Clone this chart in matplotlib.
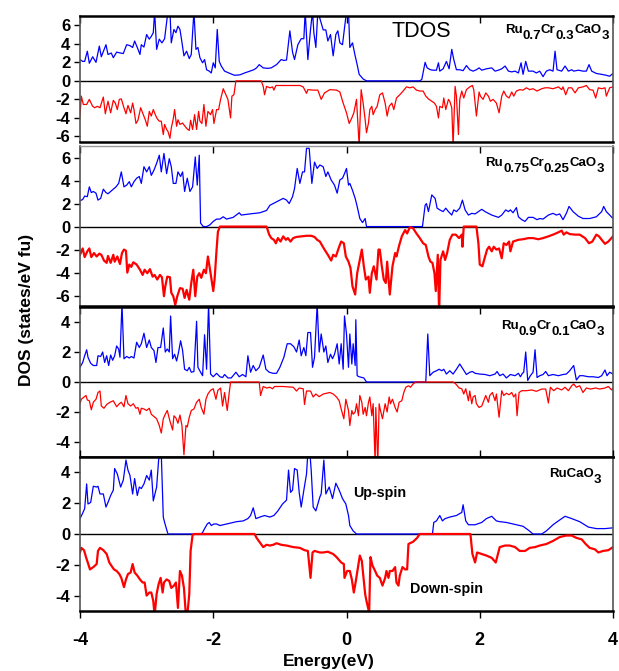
# Spin-resolved total DOS for Ru(1-x)Cr(x)CaO3, four stacked panels.

import matplotlib
matplotlib.use('Agg')
import matplotlib.pyplot as plt

plt.rcParams['font.family'] = ['Liberation Sans', 'DejaVu Sans']
plt.rcParams['font.weight'] = 'bold'
plt.rcParams['axes.unicode_minus'] = False

# (energy eV, DOS); spikes that leave the frame are estimates
p1_up = [(-4.00,2.3),(-3.96,2.1),(-3.93,2.1),(-3.89,3.2),(-3.86,1.9),(-3.81,2.6),(-3.76,2.0),(-3.71,3.75),(-3.68,2.6),
         (-3.61,3.9),(-3.58,2.85),(-3.53,3.0),(-3.50,2.5),(-3.45,3.1),(-3.39,3.0),(-3.35,2.95),(-3.30,3.9),(-3.25,3.8),
         (-3.21,3.6),(-3.18,4.3),(-3.14,3.6),(-3.10,2.85),(-3.08,3.9),(-3.04,3.65),(-3.00,5.0),(-2.96,4.5),(-2.93,4.8),
         (-2.90,5.2),(-2.88,7.5),(-2.85,3.4),(-2.81,4.5),(-2.77,4.1),(-2.73,4.55),(-2.70,6.3),(-2.68,7.5),(-2.65,7.5),
         (-2.63,4.1),(-2.59,5.55),(-2.56,5.2),(-2.53,5.9),(-2.50,5.55),(-2.48,4.65),(-2.44,2.7),(-2.40,3.2),(-2.36,2.4),
         (-2.33,2.85),(-2.29,7.5),(-2.26,3.4),(-2.23,3.6),(-2.20,2.5),(-2.16,1.95),(-2.13,2.3),(-2.10,1.2),(-2.06,1.05),
         (-2.03,0.85),(-2.00,1.95),(-1.97,1.4),(-1.94,5.55),(-1.91,2.1),(-1.88,1.6),(-1.83,1.05),(-1.75,0.8),(-1.68,0.6),
         (-1.60,0.65),(-1.53,0.85),(-1.45,1.05),(-1.39,1.2),(-1.35,1.4),(-1.31,1.75),(-1.25,1.4),(-1.18,1.35),(-1.13,1.4),
         (-1.05,1.75),(-0.98,2.3),(-0.94,2.2),(-0.90,2.25),(-0.85,5.4),(-0.81,3.1),(-0.78,2.3),(-0.73,3.9),(-0.68,4.55),
         (-0.64,4.55),(-0.62,7.5),(-0.58,2.3),(-0.54,5.55),(-0.51,7.5),(-0.49,5.2),(-0.46,3.6),(-0.43,7.5),
         (-0.35,5.5),(-0.31,5.5),(-0.28,4.3),(-0.24,5.0),(-0.20,2.7),(-0.16,5.0),(-0.13,5.4),(-0.10,4.1),(-0.06,3.9),
         (0.00,7.5),(0.03,7.5),(0.05,3.6),(0.09,4.1),(0.13,2.7),(0.16,1.75),(0.19,0.7),(0.25,0.2),(0.30,0.0),(1.10,0.0),
         (1.13,0.15),(1.18,2.0),(1.21,1.4),(1.26,1.2),(1.30,1.15),(1.35,1.15),(1.38,1.95),(1.40,1.05),(1.45,1.3),
         (1.50,2.1),(1.54,1.3),(1.58,3.4),(1.61,2.3),(1.65,1.2),(1.70,1.2),(1.75,1.1),(1.80,1.65),(1.85,1.2),(1.90,1.05),
         (1.95,1.2),(1.99,1.4),(2.03,1.15),(2.10,1.3),(2.18,1.4),(2.23,1.05),(2.28,1.15),(2.33,1.3),(2.38,1.6),
         (2.43,1.05),(2.48,0.97),(2.53,1.05),(2.58,0.85),(2.62,1.95),(2.65,0.7),(2.69,2.1),(2.73,1.05),(2.80,1.05),
         (2.85,0.85),(2.90,1.05),(2.95,0.45),(3.00,1.05),(3.05,1.2),(3.10,1.05),(3.13,3.2),(3.16,1.2),(3.23,1.05),
         (3.28,1.6),(3.33,1.05),(3.38,1.2),(3.41,1.05),(3.48,1.15),(3.55,1.05),(3.60,1.05),(3.64,1.75),(3.68,1.05),
         (3.75,0.8),(3.83,0.7),(3.90,0.6),(3.95,0.5),(4.00,0.8)]

p1_dn = [(-4.00,-3.8),(-3.98,-1.65),(-3.95,-2.55),(-3.90,-2.55),(-3.86,-2.0),(-3.81,-2.75),(-3.78,-2.9),(-3.74,-2.75),
         (-3.70,-2.9),(-3.65,-1.75),(-3.62,-3.55),(-3.58,-2.2),(-3.54,-3.45),(-3.50,-2.1),(-3.47,-2.4),(-3.44,-3.1),
         (-3.41,-2.0),(-3.38,-1.95),(-3.34,-2.9),(-3.31,-3.55),(-3.28,-2.65),(-3.24,-3.45),(-3.21,-2.4),(-3.19,-3.1),
         (-3.16,-4.6),(-3.13,-4.25),(-3.09,-2.9),(-3.05,-3.65),(-3.02,-4.2),(-2.99,-4.9),(-2.96,-3.3),(-2.93,-3.8),
         (-2.90,-3.1),(-2.87,-3.65),(-2.84,-4.1),(-2.81,-4.35),(-2.78,-4.35),(-2.75,-5.8),(-2.73,-4.7),(-2.70,-5.25),
         (-2.68,-5.45),(-2.65,-6.2),(-2.63,-5.1),(-2.60,-4.1),(-2.58,-3.1),(-2.55,-4.9),(-2.53,-4.2),(-2.50,-4.7),
         (-2.46,-4.55),(-2.43,-4.85),(-2.39,-5.2),(-2.36,-5.35),(-2.34,-4.25),(-2.31,-5.25),(-2.28,-3.65),(-2.25,-5.25),
         (-2.22,-3.3),(-2.20,-4.35),(-2.17,-4.6),(-2.14,-2.55),(-2.11,-4.9),(-2.08,-3.3),(-2.04,-3.65),(-2.01,-3.1),
         (-1.99,-4.6),(-1.95,-3.1),(-1.92,-3.1),(-1.89,-2.0),(-1.85,-0.85),(-1.81,-1.5),(-1.78,-2.0),(-1.74,-4.0),
         (-1.72,-1.65),(-1.69,-1.5),(-1.66,0.0),(-1.28,0.0),(-1.25,-0.6),(-1.23,-1.5),(-1.20,-0.6),(-1.15,-0.75),
         (-1.11,-0.65),(-1.09,-1.0),(-1.06,-0.5),(-0.95,-0.5),(-0.70,-0.5),(-0.65,-0.65),(-0.60,-1.35),(-0.58,-0.95),
         (-0.50,-1.0),(-0.43,-1.0),(-0.38,-2.0),(-0.33,-1.3),(-0.25,-0.95),(-0.15,-1.0),(-0.10,-1.2),(-0.05,-2.4),
         (0.00,-3.45),(0.04,-4.6),(0.08,-4.0),(0.11,-3.45),(0.15,-2.0),(0.19,-7.0),(0.22,-0.95),(0.25,-2.4),(0.28,-4.2),
         (0.30,-5.6),(0.33,-4.55),(0.35,-3.1),(0.38,-2.75),(0.40,-3.65),(0.43,-3.1),(0.46,-2.75),(0.50,-1.5),(0.54,-1.3),
         (0.58,-2.4),(0.61,-3.8),(0.64,-2.75),(0.68,-2.4),(0.71,-3.1),(0.75,-1.85),(0.80,-1.5),(0.85,-1.1),(0.90,-0.65),
         (0.95,-0.75),(1.00,-0.65),(1.05,-1.0),(1.10,-1.1),(1.15,-1.1),(1.19,-1.65),(1.23,-1.95),(1.28,-2.2),(1.32,-2.4),
         (1.35,-2.75),(1.38,-4.0),(1.40,-2.75),(1.44,-2.9),(1.46,-1.85),(1.49,-3.1),(1.53,-2.0),(1.55,-2.2),(1.58,-2.9),
         (1.60,-7.0),(1.63,-0.6),(1.65,-1.65),(1.68,-5.8),(1.70,-2.0),(1.73,-1.1),(1.76,-1.85),(1.80,-0.95),(1.85,-0.65),
         (1.89,-0.5),(1.91,-0.95),(1.95,-3.8),(1.99,-1.2),(2.01,-1.65),(2.05,-2.0),(2.09,-1.3),(2.13,-1.65),(2.16,-2.2),
         (2.20,-2.0),(2.25,-2.4),(2.29,-3.45),(2.33,-1.65),(2.36,-1.1),(2.40,-1.65),(2.44,-1.85),(2.48,-1.2),(2.51,-1.65),
         (2.55,-1.1),(2.60,-0.95),(2.65,-1.0),(2.70,-0.75),(2.75,-0.95),(2.80,-0.85),(2.86,-1.1),(2.93,-0.85),
         (2.98,-0.75),(3.03,-0.75),(3.10,-0.85),(3.18,-0.65),(3.23,-0.95),(3.25,-0.65),(3.29,-1.5),(3.33,-0.75),
         (3.38,-0.75),(3.43,-1.3),(3.48,-0.75),(3.55,-0.65),(3.60,-0.5),(3.65,-0.95),(3.70,-1.0),(3.74,-1.85),
         (3.78,-0.75),(3.83,-0.85),(3.88,-0.75),(3.90,-1.65),(3.95,-0.75),(4.00,-0.65)]

p2_up = [(-4.00,2.25),(-3.96,2.35),(-3.93,2.65),(-3.89,2.6),(-3.86,3.45),(-3.83,2.95),(-3.80,3.05),(-3.76,2.9),
         (-3.73,2.3),(-3.69,2.45),(-3.65,3.25),(-3.61,2.95),(-3.58,2.85),(-3.54,3.05),(-3.50,3.25),(-3.46,3.45),
         (-3.42,3.75),(-3.38,4.75),(-3.34,3.45),(-3.30,3.6),(-3.26,3.9),(-3.23,3.45),(-3.19,3.9),(-3.15,4.2),(-3.11,4.35),
         (-3.08,3.75),(-3.04,5.2),(-3.00,4.75),(-2.96,5.2),(-2.93,4.45),(-2.89,4.9),(-2.85,5.5),(-2.81,6.2),(-2.78,4.75),
         (-2.74,6.35),(-2.70,4.6),(-2.66,5.9),(-2.63,5.2),(-2.60,3.75),(-2.56,3.75),(-2.53,4.75),(-2.49,4.35),(-2.46,4.75),
         (-2.43,3.05),(-2.39,4.2),(-2.35,3.05),(-2.31,3.45),(-2.27,6.05),(-2.24,3.6),(-2.21,6.2),(-2.19,0.3),(-2.15,0.0),
         (-2.10,0.0),(-2.05,0.15),(-2.00,0.45),(-1.95,0.65),(-1.90,0.65),(-1.85,0.85),(-1.80,0.65),(-1.70,0.8),
         (-1.61,1.2),(-1.58,1.0),(-1.45,1.1),(-1.30,1.2),(-1.20,1.4),(-1.15,1.85),(-1.05,2.15),(-0.95,2.45),(-0.90,2.3),
         (-0.86,2.0),(-0.81,2.6),(-0.78,3.3),(-0.74,5.05),(-0.70,3.75),(-0.66,4.75),(-0.63,4.75),(-0.60,6.8),(-0.56,6.8),
         (-0.52,3.75),(-0.48,5.6),(-0.44,5.05),(-0.40,5.35),(-0.35,5.2),(-0.31,4.35),(-0.28,4.75),(-0.23,4.05),
         (-0.18,3.6),(-0.14,2.9),(-0.10,4.05),(-0.06,4.2),(-0.03,4.6),(0.00,5.05),(0.03,3.6),(0.05,3.75),(0.09,3.15),
         (0.13,2.45),(0.16,1.75),(0.20,0.7),(0.24,0.35),(0.28,0.7),(0.30,0.0),(1.14,0.0),(1.18,1.85),(1.20,2.0),
         (1.23,1.3),(1.28,2.75),(1.33,2.45),(1.36,1.6),(1.40,1.45),(1.45,1.3),(1.49,1.6),(1.53,1.3),(1.58,1.0),
         (1.61,1.45),(1.65,1.3),(1.70,1.6),(1.74,2.3),(1.78,1.45),(1.83,1.0),(1.88,1.15),(1.93,1.1),(1.98,1.3),
         (2.03,1.5),(2.08,1.3),(2.13,1.15),(2.18,1.0),(2.23,0.9),(2.28,0.8),(2.33,1.0),(2.39,1.45),(2.43,1.3),
         (2.46,1.45),(2.50,1.2),(2.55,1.65),(2.58,0.85),(2.63,0.6),(2.68,0.45),(2.73,0.8),(2.80,0.8),(2.86,0.6),
         (2.90,0.7),(2.95,0.65),(3.03,1.0),(3.10,1.15),(3.15,1.0),(3.20,1.1),(3.25,0.6),(3.30,1.15),(3.34,1.75),
         (3.40,1.3),(3.48,0.9),(3.55,0.7),(3.65,0.7),(3.75,0.85),(3.83,1.3),(3.86,1.75),(3.90,1.3),(3.95,1.0),(4.00,0.7)]

p2_dn = [(-4.00,-2.45),(-3.96,-1.9),(-3.93,-2.65),(-3.89,-2.15),(-3.86,-1.9),(-3.83,-2.65),(-3.79,-2.3),(-3.75,-2.6),
         (-3.71,-2.35),(-3.68,-2.45),(-3.64,-2.95),(-3.60,-3.15),(-3.58,-2.55),(-3.54,-3.15),(-3.50,-2.45),(-3.48,-3.05),
         (-3.44,-2.6),(-3.40,-3.25),(-3.37,-2.3),(-3.34,-2.0),(-3.31,-2.1),(-3.29,-4.0),(-3.26,-3.3),(-3.23,-3.5),
         (-3.20,-3.1),(-3.15,-3.3),(-3.10,-3.75),(-3.06,-4.2),(-3.03,-3.75),(-2.99,-4.05),(-2.95,-3.7),(-2.91,-4.35),
         (-2.88,-4.2),(-2.84,-4.6),(-2.80,-4.2),(-2.77,-4.4),(-2.74,-6.05),(-2.72,-5.2),(-2.69,-4.35),(-2.65,-4.4),
         (-2.63,-5.75),(-2.60,-6.05),(-2.57,-6.8),(-2.54,-6.05),(-2.50,-5.35),(-2.46,-5.4),(-2.43,-6.2),(-2.40,-5.5),
         (-2.36,-6.35),(-2.33,-4.9),(-2.30,-3.75),(-2.27,-6.05),(-2.24,-4.35),(-2.21,-4.05),(-2.18,-4.45),(-2.14,-3.75),
         (-2.11,-4.05),(-2.08,-2.6),(-2.04,-4.05),(-2.00,-5.6),(-1.98,-4.6),(-1.95,-2.0),(-1.93,-0.45),(-1.90,0.0),
         (-1.20,0.0),(-1.16,-0.7),(-1.13,-1.0),(-1.09,-1.15),(-1.06,-1.45),(-1.03,-1.0),(-0.99,-1.3),(-0.95,-0.85),
         (-0.91,-1.15),(-0.88,-1.0),(-0.84,-1.3),(-0.80,-1.0),(-0.75,-0.9),(-0.68,-0.85),(-0.60,-0.8),(-0.53,-0.8),
         (-0.48,-0.9),(-0.44,-1.15),(-0.40,-1.3),(-0.33,-2.0),(-0.28,-2.45),(-0.23,-2.95),(-0.20,-2.45),(-0.16,-2.6),
         (-0.11,-1.75),(-0.08,-1.3),(-0.04,-1.45),(-0.01,-2.6),(0.03,-3.05),(0.06,-3.6),(0.09,-5.2),(0.13,-5.9),
         (0.16,-4.05),(0.20,-2.9),(0.23,-2.0),(0.26,-3.45),(0.29,-4.6),(0.33,-4.35),(0.35,-5.75),(0.38,-4.05),
         (0.41,-3.45),(0.45,-4.6),(0.48,-2.0),(0.50,-2.0),(0.53,-3.45),(0.56,-4.6),(0.59,-4.9),(0.61,-3.05),(0.65,-5.9),
         (0.69,-3.45),(0.73,-2.3),(0.75,-2.6),(0.79,-1.65),(0.83,-0.85),(0.88,-0.3),(0.91,-0.6),(0.95,-0.05),
         (1.00,-0.15),(1.05,-0.6),(1.10,-1.0),(1.15,-1.45),(1.19,-1.6),(1.23,-2.6),(1.26,-3.05),(1.29,-3.15),
         (1.32,-4.05),(1.34,-5.6),(1.37,-2.45),(1.39,-7.5),(1.41,-2.9),(1.45,-2.15),(1.48,-2.9),(1.51,-2.3),(1.55,-1.15),
         (1.59,-0.7),(1.64,-0.7),(1.69,-1.0),(1.73,-0.7),(1.74,-1.75),(1.76,0.0),(1.95,0.0),(1.98,-1.45),(2.00,-3.3),
         (2.04,-3.45),(2.08,-2.6),(2.11,-2.0),(2.14,-1.75),(2.18,-2.15),(2.21,-1.75),(2.25,-2.0),(2.29,-1.9),
         (2.33,-2.75),(2.36,-1.45),(2.40,-1.6),(2.44,-1.3),(2.46,-2.15),(2.50,-1.3),(2.58,-1.15),(2.65,-1.1),
         (2.73,-1.0),(2.80,-1.0),(2.88,-1.1),(2.95,-1.0),(3.03,-0.85),(3.10,-0.7),(3.18,-0.5),(3.23,-0.35),(3.26,-0.7),
         (3.30,-0.5),(3.35,-0.65),(3.43,-0.7),(3.50,-0.7),(3.58,-1.0),(3.64,-1.45),(3.69,-1.3),(3.75,-0.7),(3.79,-0.85),
         (3.83,-1.15),(3.88,-1.5),(3.93,-1.3),(4.00,-0.85)]

p3_up = [(-4.00,0.98),(-3.96,1.3),(-3.93,1.75),(-3.90,2.15),(-3.88,1.65),(-3.84,1.25),(-3.80,1.1),(-3.75,1.1),
         (-3.73,1.75),(-3.69,1.7),(-3.66,2.0),(-3.63,1.3),(-3.60,1.75),(-3.57,1.1),(-3.54,1.8),(-3.51,1.45),(-3.48,1.75),
         (-3.45,2.4),(-3.42,2.2),(-3.40,1.65),(-3.37,5.2),(-3.34,1.55),(-3.30,1.7),(-3.26,1.6),(-3.23,1.7),(-3.19,1.6),
         (-3.15,2.65),(-3.11,2.3),(-3.08,2.55),(-3.04,3.25),(-3.00,2.3),(-2.96,2.8),(-2.93,2.3),(-2.89,2.1),(-2.86,1.3),
         (-2.83,2.3),(-2.79,2.3),(-2.75,3.6),(-2.72,2.0),(-2.69,2.2),(-2.66,2.0),(-2.64,4.4),(-2.61,1.55),(-2.58,1.85),
         (-2.55,1.4),(-2.52,2.0),(-2.49,2.75),(-2.46,2.1),(-2.43,0.85),(-2.39,0.75),(-2.36,0.98),(-2.33,0.65),(-2.29,0.7),
         (-2.25,4.05),(-2.23,0.98),(-2.19,0.65),(-2.16,0.42),(-2.13,3.15),(-2.10,0.85),(-2.07,5.2),(-2.04,0.53),
         (-2.00,0.35),(-1.95,0.58),(-1.90,0.35),(-1.86,0.3),(-1.83,0.5),(-1.78,0.27),(-1.73,0.27),(-1.66,0.65),
         (-1.61,0.35),(-1.56,0.5),(-1.51,0.35),(-1.48,1.75),(-1.44,0.65),(-1.40,1.1),(-1.36,0.75),(-1.31,0.98),
         (-1.25,1.8),(-1.21,0.85),(-1.16,0.65),(-1.10,0.58),(-1.05,0.58),(-1.00,0.98),(-0.94,1.65),(-0.89,2.55),
         (-0.84,2.55),(-0.79,2.35),(-0.75,2.0),(-0.71,2.8),(-0.68,1.75),(-0.64,2.3),(-0.61,1.75),(-0.58,3.3),(-0.54,3.3),
         (-0.51,0.98),(-0.48,1.65),(-0.44,5.2),(-0.41,2.0),(-0.38,3.2),(-0.34,2.0),(-0.31,2.4),(-0.28,1.3),(-0.24,1.85),
         (-0.21,1.55),(-0.18,1.85),(-0.14,2.55),(-0.11,1.2),(-0.08,2.55),(-0.05,0.85),(-0.03,4.4),(0.00,3.2),(0.03,0.98),
         (0.05,3.2),(0.08,1.2),(0.10,2.55),(0.13,1.1),(0.14,4.15),(0.16,0.42),(0.19,0.35),(0.23,0.3),(0.26,0.27),
         (0.30,0.0),(1.19,0.0),(1.22,3.2),(1.25,0.42),(1.30,0.65),(1.35,0.75),(1.39,0.85),(1.43,0.75),(1.46,0.85),
         (1.50,0.53),(1.55,0.75),(1.60,0.53),(1.65,0.85),(1.70,1.2),(1.75,0.85),(1.80,0.5),(1.85,0.65),(1.89,0.7),
         (1.93,0.58),(2.00,0.53),(2.08,0.5),(2.15,0.42),(2.23,0.53),(2.26,0.7),(2.30,0.42),(2.35,0.53),(2.40,0.27),
         (2.46,0.5),(2.53,0.42),(2.58,0.58),(2.61,0.35),(2.64,0.58),(2.66,0.65),(2.69,2.0),(2.72,0.1),(2.76,0.42),
         (2.80,0.65),(2.83,2.15),(2.86,0.3),(2.90,0.42),(2.95,0.5),(2.99,0.7),(3.03,0.42),(3.10,0.5),(3.18,0.42),
         (3.25,0.5),(3.30,0.53),(3.35,0.75),(3.41,1.1),(3.45,0.13),(3.50,0.42),(3.55,0.42),(3.63,0.35),(3.70,0.35),
         (3.78,0.3),(3.83,0.42),(3.88,0.8),(3.91,0.42),(3.95,0.65),(4.00,0.53)]

p3_dn = [(-4.00,-1.45),(-3.98,-1.15),(-3.94,-1.0),(-3.91,-0.9),(-3.89,-1.2),(-3.86,-1.25),(-3.83,-1.85),(-3.80,-1.35),
         (-3.76,-1.15),(-3.73,-0.7),(-3.70,-0.6),(-3.68,-1.6),(-3.64,-1.75),(-3.60,-1.5),(-3.55,-1.35),(-3.50,-1.25),
         (-3.45,-1.65),(-3.41,-1.45),(-3.38,-1.35),(-3.34,-1.65),(-3.31,-0.9),(-3.28,-1.45),(-3.24,-1.6),(-3.20,-1.45),
         (-3.16,-1.75),(-3.13,-1.7),(-3.10,-2.15),(-3.08,-1.75),(-3.04,-1.8),(-3.00,-1.9),(-2.96,-1.75),(-2.93,-2.15),
         (-2.89,-2.3),(-2.85,-2.45),(-2.81,-2.9),(-2.78,-3.4),(-2.75,-2.45),(-2.72,-2.15),(-2.69,-1.9),(-2.65,-2.6),
         (-2.61,-3.2),(-2.59,-2.25),(-2.56,-2.4),(-2.53,-2.75),(-2.50,-2.2),(-2.47,-2.9),(-2.44,-4.85),(-2.41,-2.9),
         (-2.39,-3.0),(-2.36,-2.35),(-2.33,-1.9),(-2.29,-1.8),(-2.25,-1.35),(-2.21,-1.15),(-2.18,-1.7),(-2.14,-2.15),
         (-2.11,-1.15),(-2.08,-0.8),(-2.04,-0.55),(-2.00,-0.45),(-1.96,-1.15),(-1.93,-0.55),(-1.89,-0.4),(-1.86,-1.6),
         (-1.83,-0.7),(-1.79,-1.9),(-1.76,-0.7),(-1.74,0.0),(-1.31,0.0),(-1.29,-0.9),(-1.25,-0.3),(-1.20,-0.4),
         (-1.15,-0.35),(-1.11,-0.45),(-1.08,-0.3),(-0.95,-0.3),(-0.80,-0.35),(-0.75,-0.6),(-0.71,-0.4),(-0.65,-0.45),
         (-0.63,-1.5),(-0.60,-0.6),(-0.54,-0.6),(-0.50,-1.0),(-0.46,-0.8),(-0.41,-0.98),(-0.35,-0.8),(-0.30,-0.75),
         (-0.25,-0.7),(-0.20,-0.8),(-0.15,-1.0),(-0.11,-1.25),(-0.08,-1.8),(-0.04,-2.45),(-0.01,-1.15),(0.03,-1.9),
         (0.05,-2.9),(0.08,-1.9),(0.10,-2.15),(0.13,-2.0),(0.15,-1.45),(0.18,-2.25),(0.20,-0.9),(0.23,-1.35),
         (0.25,-2.15),(0.28,-1.7),(0.30,-2.25),(0.33,-1.35),(0.35,-1.0),(0.38,-2.25),(0.40,-1.45),(0.43,-5.5),
         (0.44,-1.7),(0.47,-5.5),(0.49,-1.45),(0.51,-1.9),(0.54,-2.45),(0.58,-1.45),(0.61,-2.0),(0.64,-1.0),(0.66,-1.45),
         (0.69,-1.15),(0.73,-1.7),(0.76,-2.0),(0.79,-1.35),(0.83,-1.25),(0.86,-0.7),(0.89,-0.35),(0.93,-0.25),
         (0.96,-0.35),(1.00,-0.13),(1.04,0.0),(1.60,0.0),(1.64,-0.13),(1.69,-0.4),(1.73,-0.45),(1.76,-0.8),(1.79,-0.45),
         (1.83,-1.25),(1.85,-0.6),(1.88,-1.45),(1.90,-1.0),(1.93,-0.9),(1.95,-1.45),(1.99,-1.7),(2.03,-1.6),(2.06,-1.25),
         (2.09,-0.9),(2.13,-1.35),(2.15,-0.9),(2.19,-0.7),(2.23,-1.25),(2.25,-0.8),(2.29,-2.35),(2.33,-0.58),(2.36,-0.9),
         (2.40,-0.75),(2.44,-0.85),(2.48,-0.7),(2.51,-1.0),(2.54,-0.8),(2.56,-2.25),(2.59,-0.7),(2.63,-0.58),
         (2.70,-0.58),(2.78,-0.53),(2.85,-0.62),(2.93,-0.47),(2.99,-0.47),(3.03,-1.4),(3.06,-0.35),(3.11,-0.58),
         (3.16,-0.4),(3.23,-0.53),(3.28,-0.35),(3.33,-0.58),(3.38,-0.25),(3.41,-0.13),(3.45,-0.35),(3.50,-0.25),
         (3.55,-0.7),(3.60,-0.4),(3.66,-0.47),(3.74,-0.4),(3.80,-0.47),(3.88,-0.4),(3.93,-0.3),(3.98,-0.53),(4.00,-0.4)]

p4_up = [(-4.00,1.0),(-3.96,1.35),(-3.93,1.65),(-3.90,3.25),(-3.88,1.95),(-3.84,2.05),(-3.80,3.1),(-3.75,3.05),
         (-3.73,3.1),(-3.70,2.6),(-3.65,2.6),(-3.61,1.75),(-3.58,2.05),(-3.54,2.5),(-3.50,2.85),(-3.48,4.25),(-3.44,3.9),
         (-3.39,3.05),(-3.35,3.5),(-3.31,4.8),(-3.28,4.15),(-3.25,3.8),(-3.21,2.6),(-3.18,3.6),(-3.14,2.5),(-3.11,3.05),
         (-3.08,2.95),(-3.04,3.25),(-3.00,3.8),(-2.96,3.5),(-2.93,4.15),(-2.90,2.15),(-2.85,3.05),(-2.82,4.8),(-2.80,5.3),
         (-2.78,5.2),(-2.75,1.1),(-2.73,0.75),(-2.68,0.0),(-2.18,0.0),(-2.16,0.1),(-2.13,0.35),(-2.09,0.65),(-2.06,0.75),
         (-2.03,0.55),(-1.99,0.65),(-1.95,0.65),(-1.90,0.55),(-1.85,0.6),(-1.75,0.7),(-1.65,0.8),(-1.55,0.85),(-1.48,1.0),
         (-1.44,1.2),(-1.40,1.7),(-1.36,1.0),(-1.30,1.1),(-1.23,1.2),(-1.15,1.1),(-1.09,1.2),(-1.03,1.5),(-0.96,1.95),
         (-0.90,2.2),(-0.87,4.15),(-0.84,2.7),(-0.81,2.85),(-0.78,4.25),(-0.74,4.15),(-0.71,2.7),(-0.68,1.75),
         (-0.64,2.85),(-0.60,3.9),(-0.58,5.3),(-0.55,5.3),(-0.53,4.15),(-0.50,1.75),(-0.46,1.5),(-0.43,1.95),(-0.40,2.4),
         (-0.38,2.6),(-0.34,4.8),(-0.31,2.6),(-0.26,3.05),(-0.21,2.3),(-0.16,3.3),(-0.11,2.85),(-0.06,2.3),(-0.01,1.95),
         (0.03,1.2),(0.05,0.55),(0.10,0.2),(0.15,0.0),(1.29,0.0),(1.31,0.75),(1.35,0.85),(1.40,1.2),(1.44,0.85),
         (1.48,1.0),(1.55,1.1),(1.65,1.2),(1.73,1.4),(1.75,1.9),(1.79,0.85),(1.83,0.6),(1.93,0.6),(2.03,0.75),(2.10,1.0),
         (2.18,1.15),(2.25,0.85),(2.30,0.8),(2.40,0.75),(2.55,0.6),(2.65,0.5),(2.73,0.25),(2.80,0.0),(2.93,0.0),
         (3.00,0.2),(3.10,0.6),(3.18,0.85),(3.28,1.15),(3.38,1.0),(3.50,0.8),(3.63,0.45),(3.75,0.35),(3.88,0.35),
         (4.00,0.4)]

p4_dn = [(-4.00,-1.2),(-3.98,-0.9),(-3.94,-1.05),(-3.91,-1.5),(-3.88,-1.9),(-3.85,-2.3),(-3.80,-2.15),(-3.75,-1.95),
         (-3.73,-1.1),(-3.70,-0.9),(-3.65,-1.05),(-3.60,-1.3),(-3.56,-1.85),(-3.53,-2.05),(-3.49,-2.3),(-3.45,-2.4),
         (-3.41,-2.6),(-3.38,-2.85),(-3.34,-3.45),(-3.31,-2.95),(-3.28,-2.6),(-3.24,-2.5),(-3.21,-1.95),(-3.18,-2.5),
         (-3.14,-2.7),(-3.10,-2.95),(-3.06,-3.15),(-3.03,-3.15),(-3.00,-4.0),(-2.96,-3.8),(-2.93,-3.8),(-2.90,-4.35),
         (-2.88,-5.3),(-2.85,-3.9),(-2.82,-3.25),(-2.79,-2.85),(-2.76,-3.8),(-2.74,-3.15),(-2.70,-2.95),(-2.66,-3.05),
         (-2.63,-3.5),(-2.59,-3.35),(-2.56,-3.15),(-2.53,-4.8),(-2.50,-2.4),(-2.47,-2.7),(-2.44,-3.5),(-2.41,-5.3),
         (-2.39,-5.3),(-2.36,-3.9),(-2.34,-1.1),(-2.31,-0.05),(-2.28,0.0),(-1.38,0.0),(-1.35,-0.25),(-1.30,-0.55),
         (-1.25,-0.85),(-1.20,-0.7),(-1.15,-0.75),(-1.10,-0.7),(-1.05,-0.6),(-0.98,-0.7),(-0.90,-0.75),(-0.80,-0.85),
         (-0.70,-0.9),(-0.63,-1.05),(-0.58,-1.1),(-0.54,-2.85),(-0.51,-1.2),(-0.48,-1.1),(-0.40,-1.2),(-0.35,-1.2),
         (-0.28,-1.15),(-0.20,-1.3),(-0.15,-1.5),(-0.08,-1.85),(-0.04,-1.95),(-0.03,-2.85),(0.01,-2.4),(0.05,-2.4),
         (0.08,-2.95),(0.11,-3.8),(0.14,-3.05),(0.18,-1.95),(0.20,-1.4),(0.23,-1.75),(0.25,-2.6),(0.28,-3.9),
         (0.30,-4.35),(0.34,-5.1),(0.36,-1.5),(0.39,-2.05),(0.43,-2.4),(0.46,-2.7),(0.50,-2.85),(0.54,-3.35),
         (0.58,-2.85),(0.60,-2.4),(0.63,-2.85),(0.65,-2.4),(0.69,-2.4),(0.73,-2.15),(0.75,-3.15),(0.78,-3.35),
         (0.80,-2.7),(0.84,-2.15),(0.88,-2.3),(0.91,-2.3),(0.93,-0.65),(1.00,-0.5),(1.06,-0.25),(1.10,0.0),(1.86,0.0),
         (1.89,-1.3),(1.93,-1.85),(1.96,-1.2),(2.03,-1.3),(2.10,-1.4),(2.18,-1.55),(2.24,-1.85),(2.30,-0.85),
         (2.38,-0.75),(2.45,-0.75),(2.53,-0.85),(2.60,-1.1),(2.68,-1.1),(2.75,-0.9),(2.83,-0.85),(2.90,-0.75),
         (3.00,-0.65),(3.10,-0.45),(3.20,-0.2),(3.30,-0.1),(3.38,-0.1),(3.45,-0.25),(3.53,-0.35),(3.59,-0.65),
         (3.65,-0.9),(3.73,-1.0),(3.78,-1.2),(3.85,-1.1),(3.93,-1.05),(4.00,-0.85)]

# formula labels: alternating normal / subscript pieces
names = [['Ru', '0.7', 'Cr', '0.3', 'CaO', '3'],
         ['Ru', '0.75', 'Cr', '0.25', 'CaO', '3'],
         ['Ru', '0.9', 'Cr', '0.1', 'CaO', '3'],
         ['RuCaO', '3']]
name_pos = [(2.375, 5.15), (2.085, 5.25), (2.315, 3.53), (3.035, 3.68)]

panels = [(p1_up, p1_dn), (p2_up, p2_dn), (p3_up, p3_dn), (p4_up, p4_dn)]
ylims = [(-6.6, 7.0), (-6.9, 7.0), (-5.0, 5.0), (-5.0, 5.0)]
yticks = [[-6, -4, -2, 0, 2, 4, 6], [-6, -4, -2, 0, 2, 4, 6], [-4, -2, 0, 2, 4], [-4, -2, 0, 2, 4]]
red_lw = [0.9, 1.6, 0.9, 1.6]

# panel edges in pixels (top, bottom) of a 619x671 canvas
W, H = 619, 671
edges = [(16, 142), (146, 306), (307, 457), (457, 611)]
left_px, right_px = 80, 613


def formula(ax, x, y, parts, size=9.5, drop=4.3):
    t = ax.text(x, y, parts[0], fontsize=size, fontweight='bold', ha='left', va='baseline')
    level = 0
    for i, s in enumerate(parts[1:], 1):
        new = -drop if i % 2 == 1 else 0
        t = ax.annotate(s, xy=(1, 0), xycoords=t, xytext=(0, new - level),
                        textcoords='offset points', fontsize=size, fontweight='bold',
                        ha='left', va='bottom')
        level = new


fig = plt.figure(figsize=(W / 100, H / 100), dpi=100)
axs = []
for k, (top, bot) in enumerate(edges):
    ax = fig.add_axes([left_px / W, 1 - bot / H, (right_px - left_px) / W, (bot - top) / H])
    up, dn = panels[k]
    ax.axhline(0, color='black', lw=1.0, zorder=1)
    ax.plot([p[0] for p in up], [p[1] for p in up], color='#0000ff', lw=0.9, zorder=2)
    ax.plot([p[0] for p in dn], [p[1] for p in dn], color='#ff0000', lw=red_lw[k], zorder=2)
    ax.set_xlim(-4, 4)
    ax.set_ylim(*ylims[k])
    ax.set_yticks(yticks[k])
    ax.set_xticks([-4, -2, 0, 2, 4])
    for side in ['top', 'bottom']:
        ax.spines[side].set_linewidth(1.8)
        ax.spines[side].set_color('black')
    for side in ['left', 'right']:
        ax.spines[side].set_linewidth(1.2)
        ax.spines[side].set_color('#555555')
    ax.tick_params(axis='y', direction='out', length=4, width=1, labelsize=12, pad=3)
    ax.tick_params(axis='x', top=True, bottom=(k == 3), direction='in', length=5, width=1)
    if k < 3:
        ax.tick_params(axis='x', labelbottom=False)
    formula(ax, name_pos[k][0], name_pos[k][1], names[k])
    axs.append(ax)

axs[1].spines['top'].set_color('#999999')
axs[1].spines['top'].set_linewidth(1.0)

axs[3].tick_params(axis='x', which='major', bottom=True, top=True, labelsize=13, pad=10)
axs[3].xaxis.set_tick_params(which='major', direction='out', length=5)
axs[3].tick_params(axis='x', which='major', top=True)

axs[0].text(1.125, 5.3, 'TDOS', fontsize=15.5, fontweight='normal', ha='center', va='center')
axs[3].text(0.5, 2.64, 'Up-spin', fontsize=10.3, fontweight='bold', ha='center', va='center')
axs[3].text(1.5, -3.57, 'Down-spin', fontsize=10.3, fontweight='bold', ha='center', va='center')

fig.text(27 / W, 1 - 310 / H, 'DOS (states/eV fu)', rotation=90, ha='center', va='center',
         fontsize=12.5, fontweight='bold')
fig.text(328.5 / W, 1 - 666 / H, 'Energy(eV)', ha='center', va='baseline',
         fontsize=12.5, fontweight='bold')

fig.savefig('out.png', dpi=100)
